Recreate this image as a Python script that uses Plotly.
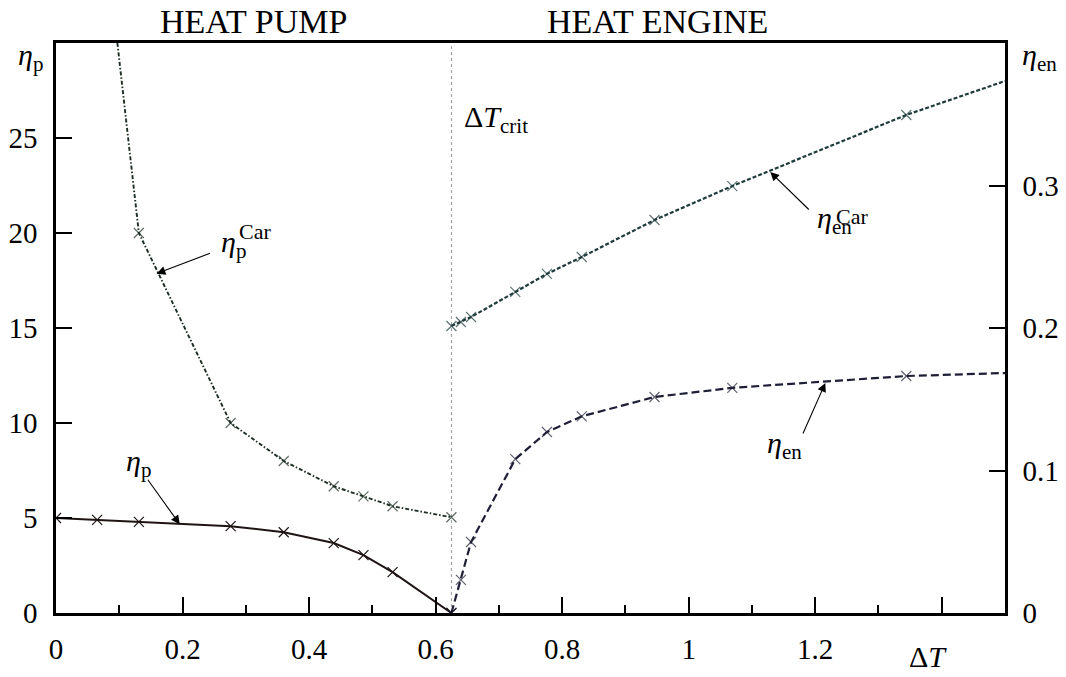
import plotly.graph_objects as go

# ---------------- data ----------------
x_crit = 0.625

# heat pump regime (left axis)
x_pump = [0.0, 0.065, 0.131, 0.276, 0.36, 0.439, 0.486, 0.532, 0.625]
eta_p = [5.0, 4.9, 4.8, 4.57, 4.25, 3.68, 3.05, 2.15, 0.0]

x_pump_car = [0.097, 0.131, 0.276, 0.36, 0.439, 0.486, 0.532, 0.625]
eta_p_car = [30.0, 20.0, 10.0, 8.0, 6.67, 6.14, 5.62, 5.04]
pump_car_marked = [False, True, True, True, True, True, True, True]

# heat engine regime (right axis)
x_engine = [0.625, 0.64, 0.656, 0.726, 0.776, 0.831, 0.946, 1.069, 1.344, 1.5]
eta_en = [0.0, 0.0232, 0.0498, 0.108, 0.127, 0.138, 0.1516, 0.158, 0.1663, 0.1684]
eta_en_car = [0.2014, 0.2042, 0.2077, 0.2253, 0.238, 0.2498, 0.2758, 0.2996, 0.3495, 0.3733]
engine_marked = [True, True, True, True, True, True, True, True, True, False]

x_ticks = [0, 0.2, 0.4, 0.6, 0.8, 1.0, 1.2, 1.4]
x_ticktext = ["0", "0.2", "0.4", "0.6", "0.8", "1", "1.2", ""]
x_minor = [0.1, 0.3, 0.5, 0.7, 0.9, 1.1, 1.3]
yl_ticks = [0, 5, 10, 15, 20, 25]
yr_ticks = [0, 0.1, 0.2, 0.3]
yr_ticktext = ["0", "0.1", "0.2", "0.3"]

FONT = "Liberation Serif"
MS = 10

def sizes(flags):
    return [MS if f else 0 for f in flags]

fig = go.Figure()

fig.add_trace(go.Scatter(
    x=x_pump, y=eta_p, mode="lines+markers",
    line=dict(color="#1e1414", width=2),
    marker=dict(symbol="x-thin", size=MS, line=dict(color="#1e1414", width=1.2)),
    showlegend=False))

fig.add_trace(go.Scatter(
    x=x_pump_car, y=eta_p_car, mode="lines+markers",
    line=dict(color="#1c2e22", width=1.9, dash="4px,2px,1.5px,2px"),
    marker=dict(symbol="x-thin", size=sizes(pump_car_marked), line=dict(color="#1c2e22", width=1.2)),
    showlegend=False))

fig.add_trace(go.Scatter(
    x=x_engine, y=eta_en, mode="lines+markers", yaxis="y2",
    line=dict(color="#1e1e36", width=2.2, dash="8px,4px"),
    marker=dict(symbol="x-thin", size=sizes(engine_marked), line=dict(color="#1e1e36", width=1.2)),
    showlegend=False))

fig.add_trace(go.Scatter(
    x=x_engine, y=eta_en_car, mode="lines+markers", yaxis="y2",
    line=dict(color="#1e3a3a", width=2.2, dash="4px,2px"),
    marker=dict(symbol="x-thin", size=sizes(engine_marked), line=dict(color="#1e3a3a", width=1.2)),
    showlegend=False))

fig.add_shape(type="line", x0=x_crit, x1=x_crit, xref="x", yref="paper", y0=0, y1=1,
              line=dict(color="#999999", width=1, dash="dot"), layer="below")

axis_common = dict(showgrid=False, zeroline=False, showline=True, linecolor="black",
                   linewidth=2.5, ticks="inside", ticklen=16, tickwidth=1.5,
                   tickcolor="black", automargin=False,
                   tickfont=dict(family=FONT, size=29, color="black"))

# page body has an 8px margin; compensate so the plot area lands where the reference has it
fig.update_layout(
    width=1058, height=669,
    margin=dict(l=48, r=61, t=35, b=64, autoexpand=False),
    plot_bgcolor="white", paper_bgcolor="white",
    font=dict(family=FONT, color="black"),
    xaxis=dict(range=[0, 1.5], tickmode="array", tickvals=x_ticks, ticktext=x_ticktext,
               mirror=True, ticklabelstandoff=8,
               minor=dict(ticks="inside", ticklen=8, tickwidth=1.5, tickcolor="black",
                          tickvals=x_minor),
               **axis_common),
    yaxis=dict(range=[0, 30], tickmode="array", tickvals=yl_ticks, mirror=True,
               ticklabelstandoff=10, **axis_common),
    yaxis2=dict(range=[0, 0.4], overlaying="y", side="right", tickmode="array",
                tickvals=yr_ticks, ticktext=yr_ticktext, ticklabelstandoff=9,
                **axis_common),
)

def txt(text, x, y, xref="paper", yref="paper", size=30, xanchor="center", yanchor="middle"):
    fig.add_annotation(text=text, x=x, y=y, xref=xref, yref=yref, showarrow=False,
                       font=dict(family=FONT, size=size, color="black"),
                       xanchor=xanchor, yanchor=yanchor)

def arrow(x, y, ax, ay, yref="y"):
    fig.add_annotation(text="", x=x, y=y, xref="x", yref=yref, ax=ax, ay=ay,
                       axref="pixel", ayref="pixel", showarrow=True,
                       arrowhead=2, arrowsize=1.6, arrowwidth=1.1, arrowcolor="black")

# headings
txt("HEAT PUMP", 0.312, 1.037, xref="x", size=34)
txt("HEAT ENGINE", 0.951, 1.037, xref="x", size=34)

# axis labels
txt("<i>η</i><sub>p</sub>", -0.012, 0.975, size=30, xanchor="right")
txt("<i>η</i><sub>en</sub>", 1.016, 0.975, size=30, xanchor="left")
txt("Δ<i>T</i>", 1.378, -0.077, xref="x", size=30)
txt("Δ<i>T</i><sub>crit</sub>", 0.641, 26.0, xref="x", yref="y", size=30, xanchor="left")

# curve labels
txt("<i>η</i><sub>p</sub>", 0.108, 7.9, xref="x", yref="y", size=30, xanchor="left")
txt("<i>η</i><sub>p</sub>", 0.258, 19.4, xref="x", yref="y", size=30, xanchor="left")
txt("Car", 0.286, 20.1, xref="x", yref="y", size=22, xanchor="left")
txt("<i>η</i><sub>en</sub>", 1.20, 0.276, xref="x", yref="y2", size=30, xanchor="left")
txt("Car", 1.229, 0.278, xref="x", yref="y2", size=22, xanchor="left")
txt("<i>η</i><sub>en</sub>", 1.121, 0.118, xref="x", yref="y2", size=30, xanchor="left")

# arrows
arrow(0.1956, 4.67, -33, -46)
arrow(0.159, 17.86, 55, -21)
arrow(1.129, 0.3095, 40, 39, yref="y2")
arrow(1.216, 0.1614, -23, 52, yref="y2")

fig.write_html("out.html")
